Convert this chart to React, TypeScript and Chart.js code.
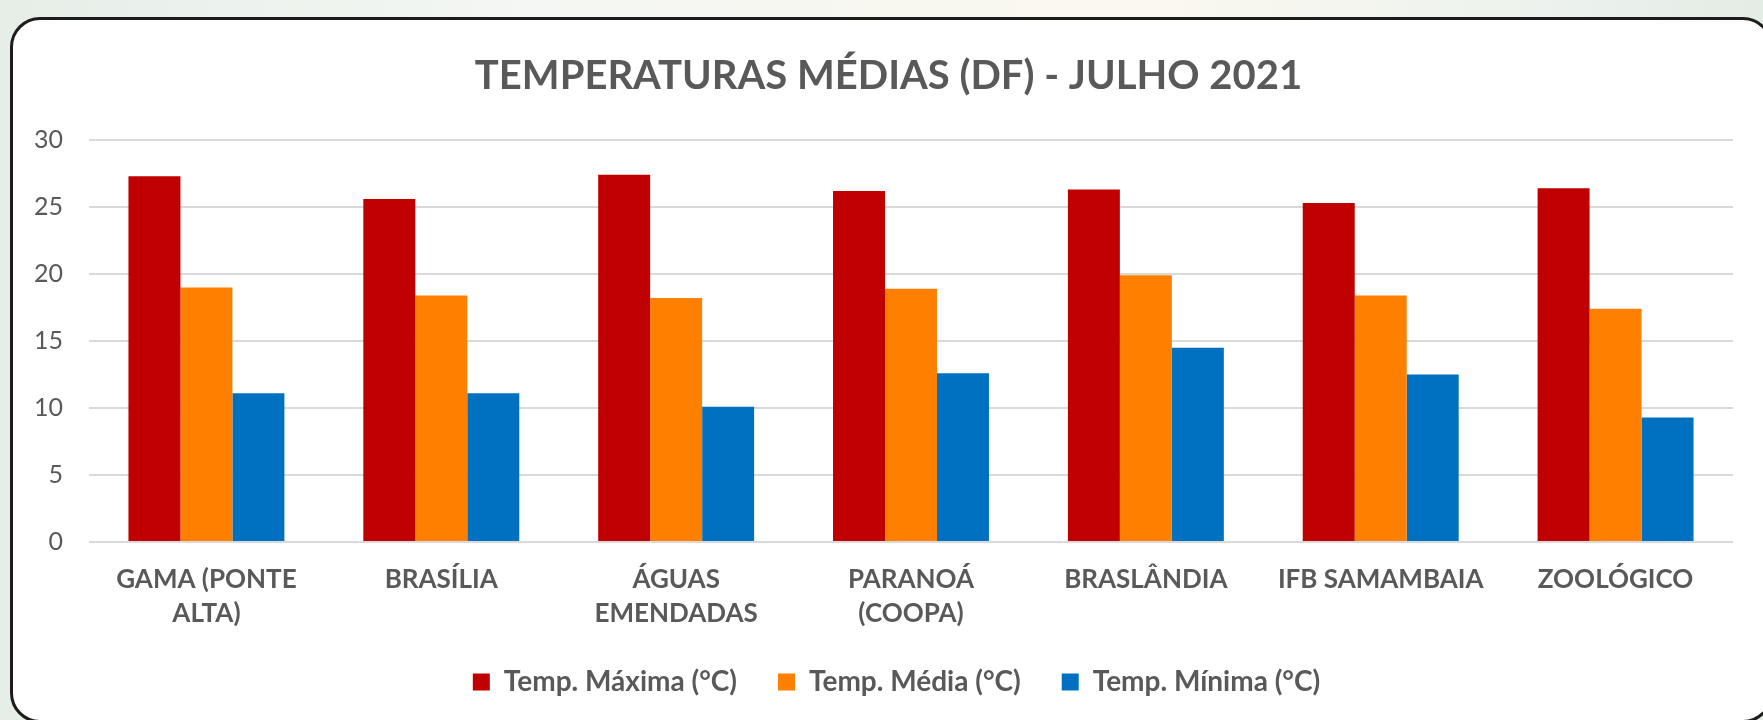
import React, { useEffect, useRef } from "react";
import { Chart, registerables } from "chart.js";

Chart.register(...registerables);

const categories: (string | string[])[] = [
  ["GAMA (PONTE", "ALTA)"],
  "BRASÍLIA",
  ["ÁGUAS", "EMENDADAS"],
  ["PARANOÁ", "(COOPA)"],
  "BRASLÂNDIA",
  "IFB SAMAMBAIA",
  "ZOOLÓGICO",
];

const tempMaxima = [27.3, 25.6, 27.4, 26.2, 26.3, 25.3, 26.4];
const tempMedia = [19.0, 18.4, 18.2, 18.9, 19.9, 18.4, 17.4];
const tempMinima = [11.1, 11.1, 10.1, 12.6, 14.5, 12.5, 9.3];

const seriesNames = ["Temp. Máxima (°C)", "Temp. Média (°C)", "Temp. Mínima (°C)"];
const yTicks = [0, 5, 10, 15, 20, 25, 30];
const titleText = "TEMPERATURAS MÉDIAS (DF) - JULHO 2021";

const FONT = "Lato, 'Open Sans', sans-serif";
const GREY = "#595959";

// Shifts the centring box of the title and legend to match the original framing.
const shiftBlocks = {
  id: "shiftBlocks",
  afterLayout(chart: any) {
    if (chart.titleBlock) chart.titleBlock.left += 44;
    if (chart.legend) chart.legend.left += 60;
  },
};

export default function App() {
  const canvasRef = useRef<HTMLCanvasElement | null>(null);

  useEffect(() => {
    if (!canvasRef.current) return;
    const chart = new Chart(canvasRef.current, {
      type: "bar",
      data: {
        labels: categories,
        datasets: [
          { label: seriesNames[0], data: tempMaxima, backgroundColor: "#C00000", borderWidth: 0 },
          { label: seriesNames[1], data: tempMedia, backgroundColor: "#FF7F00", borderWidth: 0 },
          { label: seriesNames[2], data: tempMinima, backgroundColor: "#0070C0", borderWidth: 0 },
        ],
      },
      plugins: [shiftBlocks],
      options: {
        responsive: false,
        animation: false,
        devicePixelRatio: 1,
        layout: { padding: { left: 0, right: 30, top: 0, bottom: 14 } },
        datasets: {
          bar: { categoryPercentage: 0.664, barPercentage: 1 },
        },
        plugins: {
          tooltip: { enabled: false },
          title: {
            display: true,
            text: titleText,
            color: GREY,
            font: { family: FONT, size: 40, weight: "bold", lineHeight: 1.2 },
            padding: { top: 52, bottom: 40 },
          },
          legend: {
            display: true,
            position: "bottom",
            labels: {
              color: GREY,
              font: { family: FONT, size: 28, weight: "bold" },
              boxWidth: 17,
              boxHeight: 17,
              padding: 41,
            },
          },
        },
        scales: {
          x: {
            grid: { display: false, drawTicks: false },
            border: { display: false },
            afterFit: (scale: any) => {
              scale.height = 85;
            },
            ticks: {
              color: GREY,
              font: { family: FONT, size: 26, weight: "bold", lineHeight: 1.31 },
              padding: 21,
              maxRotation: 0,
              minRotation: 0,
              autoSkip: false,
            },
          },
          y: {
            min: 0,
            max: 30,
            afterFit: (scale: any) => {
              scale.width = 89;
            },
            afterBuildTicks: (scale: any) => {
              scale.ticks = yTicks.map((v) => ({ value: v }));
            },
            grid: { color: "#D9D9D9", lineWidth: 2, drawTicks: false },
            border: { display: false },
            ticks: {
              color: GREY,
              font: { family: FONT, size: 25 },
              padding: 26,
            },
          },
        },
      },
    });
    return () => chart.destroy();
  }, []);

  return (
    <div
      style={{
        position: "fixed",
        left: 0,
        top: 0,
        width: 1763,
        height: 720,
        overflow: "hidden",
        background:
          "linear-gradient(90deg, #e6eee8 0%, #f4f7f3 30%, #fbf8ef 65%, #eef3ee 85%, #e4ece6 100%)",
      }}
    >
      <div
        style={{
          position: "absolute",
          left: 10,
          top: 17,
          width: 1763,
          height: 706,
          boxSizing: "border-box",
          border: "3px solid #1c1c1c",
          borderRadius: 30,
          background: "#ffffff",
        }}
      />
      <canvas
        ref={canvasRef}
        width={1763}
        height={720}
        style={{ position: "absolute", left: 0, top: 0, width: 1763, height: 720 }}
      />
    </div>
  );
}
